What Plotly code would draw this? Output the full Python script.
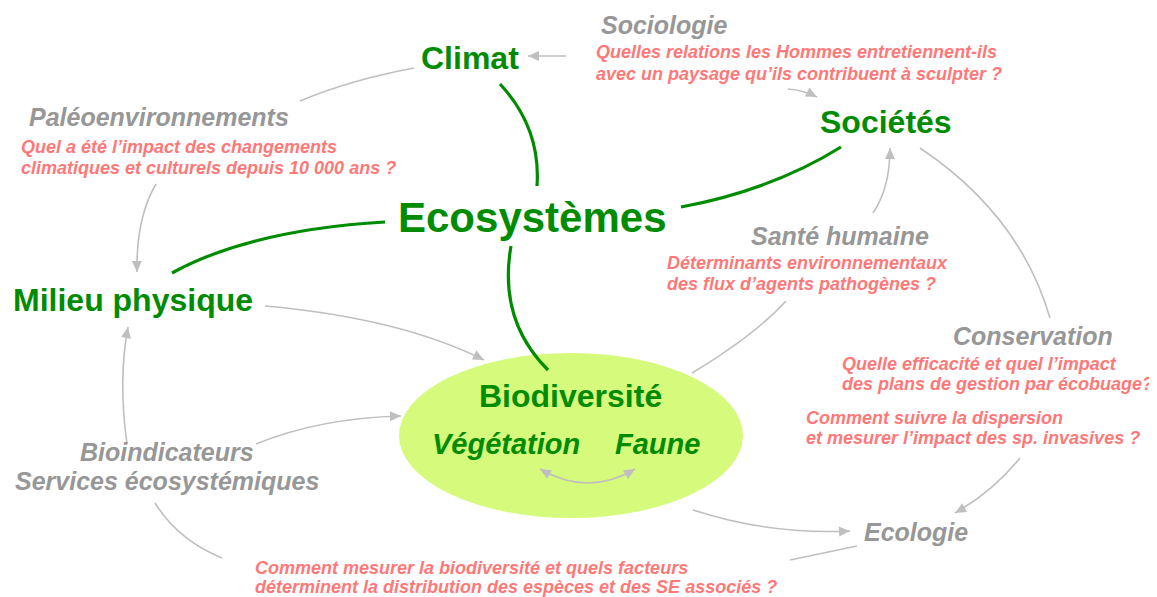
import plotly.graph_objects as go

# ---------------- data ----------------
main_labels = ["Climat", "Ecosystèmes", "Sociétés", "Milieu physique", "Biodiversité"]
main_x = [470, 532, 886, 133, 570]
main_y = [58, 217, 122, 300, 396]
main_sizes = [32, 42, 32, 32, 32]

sub_labels = ["Végétation", "Faune"]
sub_x = [506, 657]
sub_y = [444, 444]

disc_labels = ["Sociologie", "Paléoenvironnements", "Santé humaine", "Conservation",
               "Ecologie", "Bioindicateurs", "Services écosystémiques"]
disc_x = [664, 159, 840, 1033, 916, 167, 167]
disc_y = [25, 117, 236, 336, 532, 452, 481]

question_lines = [
    ["Quelles relations les Hommes entretiennent-ils", "avec un paysage qu\u2019ils contribuent à sculpter ?"],
    ["Quel a été l\u2019impact des changements", "climatiques et culturels depuis 10 000 ans ?"],
    ["Déterminants environnementaux", "des flux d\u2019agents pathogènes ?"],
    ["Quelle efficacité et quel l\u2019impact", "des plans de gestion par écobuage?"],
    ["Comment suivre la dispersion", "et mesurer l\u2019impact des sp. invasives ?"],
    ["Comment mesurer la biodiversité et quels facteurs", "déterminent la distribution des espèces et des SE associés ?"],
]
question_x = [594, 19, 665, 840, 804, 253]
question_y1 = [52, 147, 263, 364, 418, 568]
question_y2 = [74, 168, 284, 384, 438, 587]

# gray connectors: start, control, end, arrow at end, arrow at start
gray_links = [
    ((566, 56), (547, 56), (528, 56), True, False),
    ((414, 68), (350, 80), (300, 101), False, False),
    ((156, 184), (136, 218), (137, 272), True, False),
    ((265, 306), (400, 318), (484, 360), True, False),
    ((127, 444), (118, 380), (128, 327), True, False),
    ((256, 444), (320, 418), (401, 416), True, False),
    ((155, 503), (178, 540), (222, 558), False, False),
    ((790, 560), (823, 553), (857, 546), False, False),
    ((693, 510), (770, 535), (850, 531), True, False),
    ((1020, 458), (992, 492), (955, 513), True, False),
    ((920, 148), (1020, 215), (1050, 318), False, False),
    ((692, 373), (755, 335), (786, 301), False, False),
    ((873, 213), (890, 188), (890, 148), True, False),
    ((788, 89), (803, 90), (817, 97), True, False),
    ((540, 469), (588, 497), (635, 469), True, True),
]

green_links = [
    ((500, 84), (541, 128), (537, 186)),
    ((681, 207), (772, 190), (841, 147)),
    ((385, 222), (250, 230), (172, 273)),
    ((511, 246), (498, 320), (548, 370)),
]

# ---------------- styles ----------------
GREEN = "#008C00"
GRAY_TXT = "#979797"
GRAY_LINE = "#BFBFBF"
RED = "#FF7878"
FILL = "#D6FA7C"
FONT = "Liberation Sans, Arial, sans-serif"
PAGE_MARGIN = 8  # default body margin of the html page

fig = go.Figure()
shapes = []
annotations = []

shapes.append(dict(type="circle", xref="x", yref="y", x0=399, x1=743, y0=353, y1=518,
                   fillcolor=FILL, line=dict(width=0), layer="below"))


def qpath(p0, c, p1):
    return f"M {p0[0]},{p0[1]} Q {c[0]},{c[1]} {p1[0]},{p1[1]}"


def arrow_at(tip, frm, color):
    dx, dy = tip[0] - frm[0], tip[1] - frm[1]
    n = (dx * dx + dy * dy) ** 0.5 or 1
    ux, uy = dx / n, dy / n
    L, W = 11, 5
    bx, by = tip[0] - ux * L, tip[1] - uy * L
    px, py = -uy * W, ux * W
    path = (f"M {tip[0]},{tip[1]} L {bx + px},{by + py} "
            f"L {bx - px},{by - py} Z")
    shapes.append(dict(type="path", xref="x", yref="y", path=path,
                       fillcolor=color, line=dict(width=0)))


for p0, c, p1, a_end, a_start in gray_links:
    shapes.append(dict(type="path", xref="x", yref="y", path=qpath(p0, c, p1),
                       line=dict(color=GRAY_LINE, width=1.6)))
    if a_end:
        arrow_at(p1, c, GRAY_LINE)
    if a_start:
        arrow_at(p0, c, GRAY_LINE)

for p0, c, p1 in green_links:
    shapes.append(dict(type="path", xref="x", yref="y", path=qpath(p0, c, p1),
                       line=dict(color=GREEN, width=3.2)))

for lab, x, y, s in zip(main_labels, main_x, main_y, main_sizes):
    annotations.append(dict(x=x, y=y, xref="x", yref="y", text=f"<b>{lab}</b>", showarrow=False,
                            font=dict(family=FONT, size=s, color=GREEN), xanchor="center", yanchor="middle"))

for lab, x, y in zip(sub_labels, sub_x, sub_y):
    annotations.append(dict(x=x, y=y, xref="x", yref="y", text=f"<b><i>{lab}</i></b>", showarrow=False,
                            font=dict(family=FONT, size=29, color=GREEN), xanchor="center", yanchor="middle"))

for lab, x, y in zip(disc_labels, disc_x, disc_y):
    annotations.append(dict(x=x, y=y, xref="x", yref="y", text=f"<b><i>{lab}</i></b>", showarrow=False,
                            font=dict(family=FONT, size=25, color=GRAY_TXT), xanchor="center", yanchor="middle"))

for lines, x, y1, y2 in zip(question_lines, question_x, question_y1, question_y2):
    for t, y in zip(lines, [y1, y2]):
        annotations.append(dict(x=x, y=y, xref="x", yref="y", text=f"<b><i>{t}</i></b>", showarrow=False,
                                font=dict(family=FONT, size=18, color=RED), xanchor="left", yanchor="middle"))

fig.update_layout(
    width=1157 - PAGE_MARGIN, height=597 - PAGE_MARGIN,
    margin=dict(l=0, r=0, t=0, b=0),
    paper_bgcolor="white", plot_bgcolor="white",
    xaxis=dict(range=[PAGE_MARGIN, 1157], visible=False, fixedrange=True),
    yaxis=dict(range=[597, PAGE_MARGIN], visible=False, fixedrange=True),
    shapes=shapes, annotations=annotations, showlegend=False,
)

fig.write_html("out.html")
